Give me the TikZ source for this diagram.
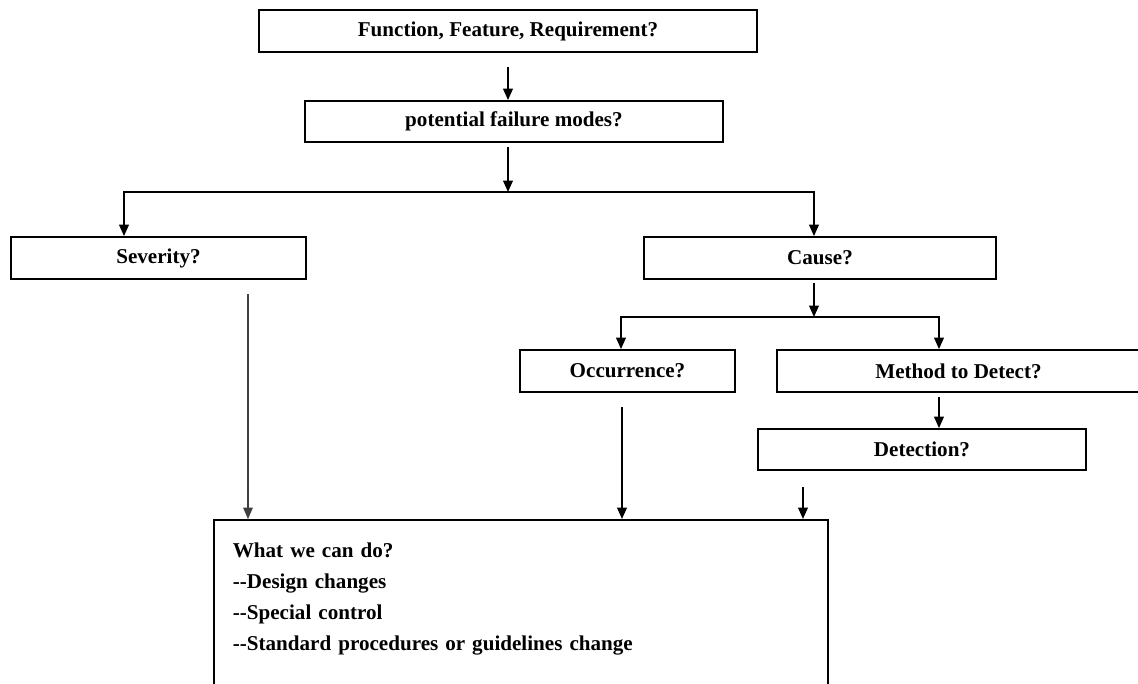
\documentclass[tikz,border=0pt]{standalone}
\usepackage{fontspec}
\setmainfont{Liberation Serif}
\usetikzlibrary{arrows.meta}
\begin{document}
\begin{tikzpicture}[scale=0.2]
    \tikzstyle{every node}+=[inner sep=0pt, font=\bfseries\fontsize{12}{17.5}\selectfont]
    \tikzstyle{box}=[draw=black, line width=1pt, minimum height=0.84cm]
    \tikzstyle{arr}=[black, line width=1pt, -{Triangle[length=6.5pt,width=5.5pt]}]
    \tikzstyle{thinarr}=[black!75, line width=0.6pt, -{Triangle[length=6.5pt,width=5.5pt]}]
    \clip (0,0) rectangle (113.8,-68.3);
    % boxes
    \node [box, minimum width=9.96cm] (func) at (50.8,-3.1) {Function, Feature, Requirement?};
    \node [box, minimum width=8.36cm, minimum height=0.82cm] (fail) at (51.4,-12.15) {potential failure modes?};
    \node [box, minimum width=5.9cm] (sev) at (15.85,-25.8) {Severity?};
    \node [box, minimum width=7.04cm] (cause) at (82.0,-25.8) {Cause?};
    \node [box, minimum width=4.3cm] (occ) at (62.75,-37.1) {Occurrence?};
    \node [box, minimum width=7.26cm] (meth) at (95.85,-37.1) {Method to Detect?};
    \node [box, minimum width=6.56cm, minimum height=0.82cm] (det) at (92.2,-44.95) {Detection?};
    \node [box, anchor=north west, minimum width=12.28cm, text width=11.52cm, align=left,
           text height=0.76cm, text depth=3cm] (act) at (21.3,-51.9)
        {What we can do?\\-{}-Design changes\\-{}-Special control\\-{}-Standard procedures or guidelines change};
    % branch points and free ends
    \coordinate (split1) at (50.8,-19.2);
    \coordinate (split2) at (81.4,-31.7);
    \coordinate (sevin) at (12.4,-19.2);
    \coordinate (occin) at (62.1,-31.7);
    \coordinate (methin) at (93.9,-31.7);
    \coordinate (funcout) at (50.8,-6.7);
    \coordinate (failout) at (50.8,-14.7);
    \coordinate (causeout) at (81.4,-28.3);
    \coordinate (methout) at (93.9,-39.7);
    \coordinate (sevout) at (24.8,-29.4);
    \coordinate (occout) at (62.2,-40.7);
    \coordinate (detout) at (80.3,-48.7);
    % arrows
    \draw [arr] (funcout) -- (funcout |- fail.north);
    \draw [arr] (failout) -- (split1);
    \draw [arr] (split1) -| (sevin |- sev.north);
    \draw [arr] (split1) -| (split2 |- cause.north);
    \draw [arr] (causeout) -- (split2);
    \draw [arr] (split2) -| (occin |- occ.north);
    \draw [arr] (split2) -| (methin |- meth.north);
    \draw [arr] (methout) -- (methout |- det.north);
    \draw [thinarr] (sevout) -- (sevout |- act.north);
    \draw [arr] (occout) -- (occout |- act.north);
    \draw [arr] (detout) -- (detout |- act.north);
\end{tikzpicture}
\end{document}
